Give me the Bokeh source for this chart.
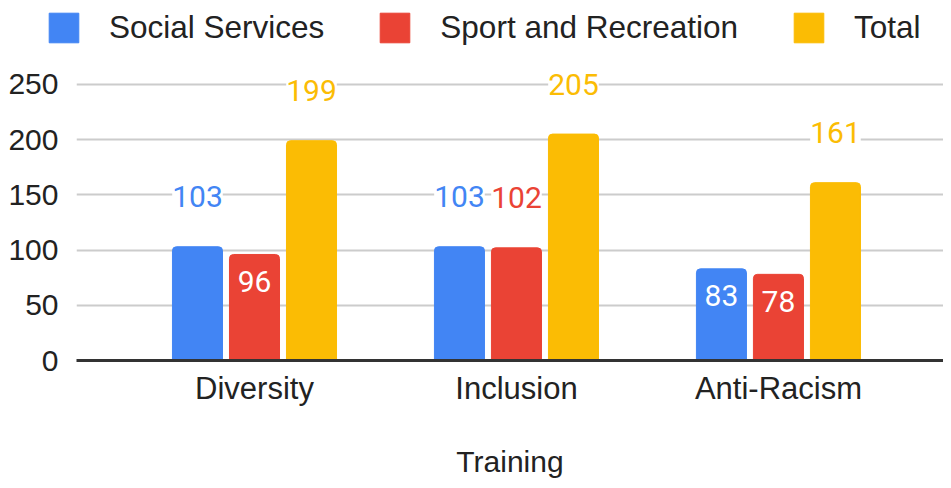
from bokeh.plotting import figure
from bokeh.layouts import column
from bokeh.models import (ColumnDataSource, Range1d, FixedTicker, LabelSet, Legend)
from bokeh.core.properties import value
from bokeh.embed import file_html
from bokeh.resources import INLINE

categories = ["Diversity", "Inclusion", "Anti-Racism"]
social_services = [103, 103, 83]
sport_recreation = [96, 102, 78]
total = [199, 205, 161]
series_names = ["Social Services", "Sport and Recreation", "Total"]
series_values = [social_services, sport_recreation, total]
series_colors = ["#4285F4", "#EA4335", "#FBBC04"]
y_ticks = [0, 50, 100, 150, 200, 250]
x_title = "Training"

AX_FONT = "Liberation Sans"
NUM_FONT = "Roboto"
W = 943
step = 0.2176
bar_w = 0.191
offsets = [-step, 0.0, step]

# ---- legend strip (separate small figure on top) ----
lg = figure(width=W, height=56, output_backend="svg", toolbar_location=None,
            x_range=Range1d(100, 100 + W), y_range=Range1d(1000, 1056),
            min_border_left=0, min_border_right=0, min_border_top=0, min_border_bottom=0,
            x_axis_location=None, y_axis_location=None)
if "frame_align" in lg.properties():
    lg.frame_align = False
lg.outline_line_color = None
lg.grid.visible = False
items = []
for name, vals, col, off in zip(series_names, series_values, series_colors, offsets):
    # same bars, kept outside this strip's visible range: only their legend swatch shows
    rr = lg.vbar(x=[i + 1 + off for i in range(len(categories))], top=vals,
                 width=bar_w, color=col)
    items.append((name, [rr]))
legend = Legend(items=items, orientation="horizontal", location=(45, 10),
                glyph_width=37, glyph_height=37, label_standoff=27, spacing=52,
                label_text_font=AX_FONT, label_text_font_size="31.5px",
                label_text_color="#222222", padding=0, margin=0,
                border_line_color=None, background_fill_alpha=0)
lg.add_layout(legend, "center")

# ---- main chart ----
p = figure(width=W, height=424, output_backend="svg", toolbar_location=None,
           x_range=Range1d(0.3206, 3.63), y_range=Range1d(0, 268),
           min_border_left=76, min_border_right=0, min_border_top=8, min_border_bottom=118)
p.outline_line_color = None
p.background_fill_color = "white"
p.border_fill_color = "white"

for name, vals, col, off in zip(series_names, series_values, series_colors, offsets):
    xs = [i + 1 + off for i in range(len(categories))]
    src = ColumnDataSource(dict(
        x=xs, top=vals, label=[str(v) for v in vals],
        tcolor=["white" if v < 100 else col for v in vals],
        bg=[None if v < 100 else "white" for v in vals],
        yoff=[-27 if v < 100 else 50 for v in vals],
    ))
    p.vbar(x="x", top="top", width=bar_w, bottom=0, color=col, source=src,
           border_radius=(4, 4, 0, 0))
    labels = LabelSet(x="x", y="top", text="label", source=src, y_offset="yoff",
                      text_color="tcolor", text_align="center", text_baseline="middle",
                      text_font=value(NUM_FONT), text_font_size=value("30px"),
                      background_fill_color="bg")
    p.add_layout(labels)

p.xgrid.grid_line_color = None
p.ygrid.grid_line_color = "#cccccc"
p.ygrid.grid_line_width = 2
p.yaxis.ticker = FixedTicker(ticks=y_ticks)
p.yaxis.axis_line_color = None
p.yaxis.major_tick_line_color = None
p.yaxis.minor_tick_line_color = None
p.yaxis.major_tick_out = 0
p.yaxis.major_tick_in = 0
p.yaxis.major_label_standoff = 18
p.yaxis.major_label_text_font = AX_FONT
p.yaxis.major_label_text_font_size = "30px"
p.yaxis.major_label_text_color = "#222222"

p.xaxis.ticker = FixedTicker(ticks=[i + 1 for i in range(len(categories))])
p.xaxis.major_label_overrides = {i + 1: c for i, c in enumerate(categories)}
p.xaxis.axis_line_color = "#333333"
p.xaxis.axis_line_width = 3
p.xaxis.major_tick_line_color = None
p.xaxis.minor_tick_line_color = None
p.xaxis.major_tick_out = 0
p.xaxis.major_tick_in = 0
p.xaxis.major_label_standoff = 10
p.xaxis.major_label_text_font = AX_FONT
p.xaxis.major_label_text_font_size = "31px"
p.xaxis.major_label_text_color = "#222222"
p.xaxis.axis_label = x_title
p.xaxis.axis_label_text_font = AX_FONT
p.xaxis.axis_label_text_font_size = "30px"
p.xaxis.axis_label_text_font_style = "normal"
p.xaxis.axis_label_text_color = "#222222"
p.xaxis.axis_label_standoff = 36

layout = column(lg, p, spacing=0)
open("out.html", "w").write(file_html(layout, INLINE))
